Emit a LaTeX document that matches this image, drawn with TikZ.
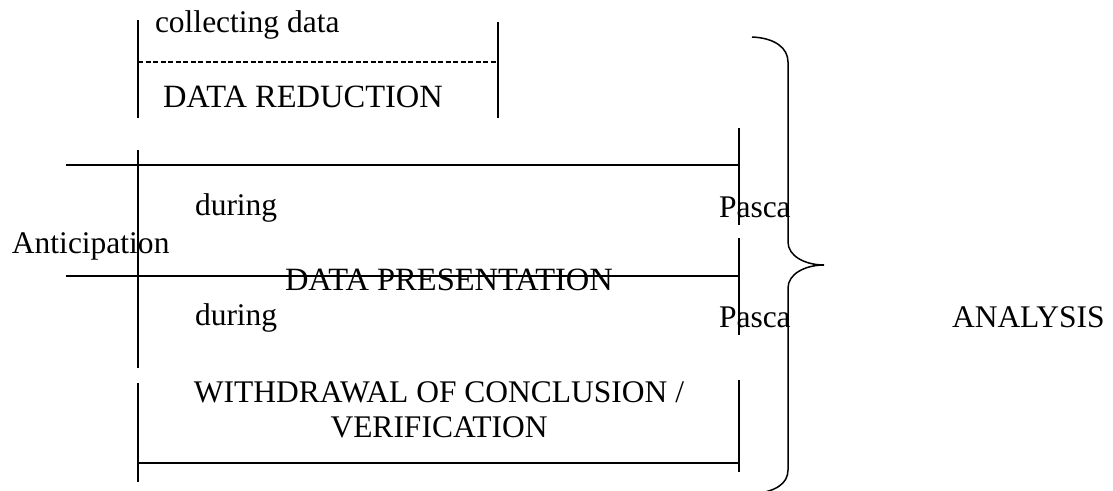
\documentclass[tikz,border=0pt]{standalone}
\usepackage{fontspec}
\setmainfont{Liberation Serif}
\begin{document}
\begin{tikzpicture}[x=1pt,y=-1pt,
  ln/.style={line width=1.3pt,black},
  dsh/.style={line width=1.1pt,black,dash pattern=on 5pt off 2.5pt},
  lbl/.style={inner sep=0pt,outer sep=0pt,font=\fontsize{31.5}{36}\selectfont},
  lblL/.style={lbl,anchor=base west},
  big/.style={font=\fontsize{32.5}{36}\selectfont}]
\useasboundingbox (0,0) rectangle (1113,490);
% top block
\draw[ln] (138,20) -- (138,118);
\draw[ln] (498,22) -- (498,118);
\draw[dsh] (138,62) -- (498,62);
\node[lblL] (collect) at (155,32) {collecting data};
\node[lblL,big] (reduct) at (163,107) {DATA REDUCTION};
% middle block
\draw[ln] (66,165) -- (739,165);
\draw[ln] (66,276) -- (739,276);
\draw[ln] (138,150) -- (138,368);
\draw[ln] (138,383) -- (138,482);
\draw[ln] (739,128) -- (739,225);
\draw[ln] (739,238) -- (739,335);
\draw[ln] (739,380) -- (739,472);
\draw[ln] (138,463) -- (739,463);
\node[lblL] (during1) at (195,215) {during};
\node[lblL] (pasca1) at (719,217) {Pasca};
\node[lblL] (antic) at (12,253) {Anticipation};
\node[lblL,big] (present) at (285,290) {DATA PRESENTATION};
\node[lblL] (during2) at (195,325) {during};
\node[lblL] (pasca2) at (719,327) {Pasca};
\node[lblL] (analysis) at (952,327) {ANALYSIS};
\node[lbl,anchor=base] (withdraw) at (439,402) {WITHDRAWAL OF CONCLUSION /};
\node[lbl,anchor=base] (verif) at (439,437) {VERIFICATION};
% brace
\draw[ln,line width=1.5pt] (752,37) .. controls (775,38) and (788,48) .. (788,62)
  -- (788,242) .. controls (788,256) and (805,265) .. (824,265)
  .. controls (805,265) and (788,274) .. (788,288)
  -- (788,470) .. controls (788,484) and (775,492) .. (752,494);
\end{tikzpicture}
\end{document}
